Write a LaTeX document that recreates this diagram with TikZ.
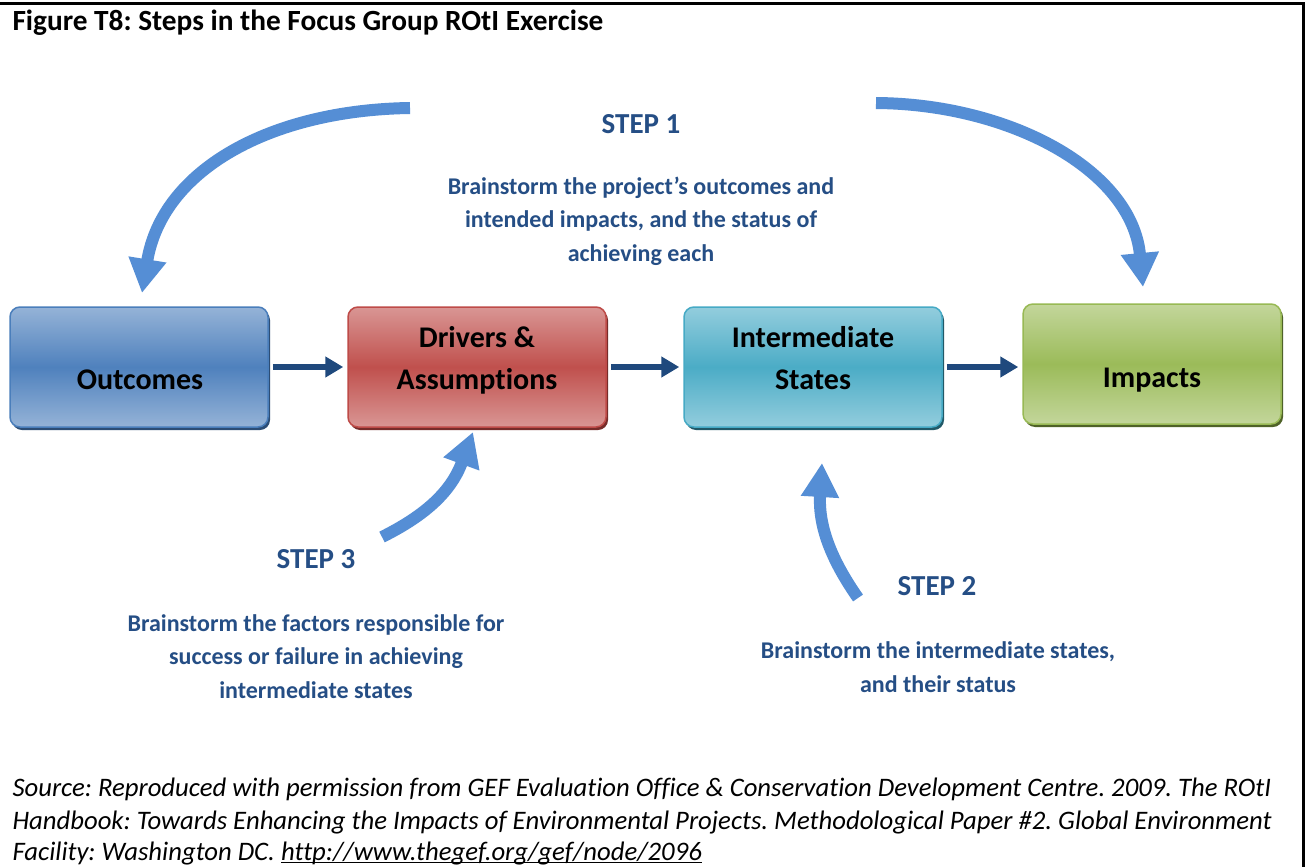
\documentclass[tikz,border=0pt]{standalone}
\usepackage{fontspec}
\setmainfont{Carlito}[Ligatures=NoCommon]
\usetikzlibrary{arrows.meta,shadows}
\frenchspacing
\definecolor{oTop}{HTML}{95B3D7}\definecolor{oMid}{HTML}{4F81BD}\definecolor{oLine}{HTML}{4A7EBB}\definecolor{oSh}{HTML}{2C4D75}
\definecolor{dTop}{HTML}{D99694}\definecolor{dMid}{HTML}{C0504D}\definecolor{dLine}{HTML}{BE4B48}\definecolor{dSh}{HTML}{772C2A}
\definecolor{iTop}{HTML}{93CDDD}\definecolor{iMid}{HTML}{4BACC6}\definecolor{iLine}{HTML}{46AAC5}\definecolor{iSh}{HTML}{215968}
\definecolor{mTop}{HTML}{C3D69B}\definecolor{mMid}{HTML}{9BBB59}\definecolor{mLine}{HTML}{98B954}\definecolor{mSh}{HTML}{4F6228}
\definecolor{navy}{HTML}{1F497D}
\definecolor{curveblue}{HTML}{558ED5}
\definecolor{steptext}{HTML}{254E85}
\newcommand\myul[1]{\setbox0\hbox{#1}\rlap{\rule[-3pt]{\wd0}{1.3pt}}\box0}
\begin{document}
\begin{tikzpicture}[x=1pt,y=-1pt,
  box/.style n args={4}{rounded corners=10pt, minimum width=258pt, minimum height=120pt,
    line width=1.5pt, draw=#3, top color=#1, bottom color=#1, middle color=#2,
    drop shadow={shadow xshift=2pt,shadow yshift=-3pt,fill=#4,opacity=1}},
  boxtext/.style={anchor=base, align=center, font=\bfseries\fontsize{30}{42}\selectfont, text=black},
  harrow/.style={draw=navy, line width=6pt, -{Triangle[length=18pt,width=20pt]}, shorten <=4pt, shorten >=4pt},
  carrow/.style={draw=curveblue, line width=12pt, -{Triangle[length=34pt,width=36pt]}},
  steplabel/.style={anchor=base, font=\bfseries\fontsize{29}{34}\selectfont, text=steptext},
  steptextstyle/.style={anchor=base, align=center, font=\bfseries\fontsize{24}{33.5}\selectfont, text=steptext},
  srcline/.style={anchor=base west, font=\itshape\fontsize{26.7}{30}\selectfont, text=black}
]
\useasboundingbox (0,0) rectangle (1306,867);
\fill[white] (0,0) rectangle (1306,867);
\draw[line width=3pt] (0,4) -- (1303,4) -- (1303,867);

\node[anchor=base west, font=\bfseries\fontsize{29.3}{34}\selectfont] (title) at (9,31) {Figure T8: Steps in the Focus Group ROtI Exercise};

% boxes
\node[box={oTop}{oMid}{oLine}{oSh}] (o) at (139,367) {};
\node[box={dTop}{dMid}{dLine}{dSh}] (d) at (477,367) {};
\node[box={iTop}{iMid}{iLine}{iSh}] (s) at (813,367) {};
\node[box={mTop}{mMid}{mLine}{mSh}] (m) at (1152,364) {};

\node[boxtext] (ot) at (140,389) {Outcomes};
\node[boxtext] (dt) at (477,389) {Drivers \&\\Assumptions};
\node[boxtext] (st) at (813,389) {Intermediate\\States};
\node[boxtext] (mt) at (1152,387) {Impacts};

% horizontal connectors
\draw[harrow] (o.east) -- (d.west);
\draw[harrow] (d.east) -- (s.west);
\draw[harrow] (s.east) -- (s.east -| m.west);

% curved arrows
\coordinate (a1s) at (410,108);
\coordinate (a1e) at (142,293);
\coordinate (a2s) at (876,103);
\coordinate (a2e) at (1143,287);
\coordinate (a3s) at (382,537);
\coordinate (a3e) at (473,432);
\coordinate (a4s) at (858,598);
\coordinate (a4e) at (822,463);
\draw[carrow] (a1s) .. controls (270,110) and (162,170) .. (a1e);
\draw[carrow] (a2s) .. controls (1010,104) and (1132,170) .. (a2e);
\draw[carrow] (a3s) .. controls (420,518) and (450,495) .. (a3e);
\draw[carrow] (a4s) .. controls (835,565) and (818,530) .. (a4e);

% step texts
\node[steplabel] (s1) at (641,133) {STEP 1};
\node[steptextstyle] (s1t) at (641,261) {Brainstorm the project’s outcomes and\\intended impacts, and the status of\\achieving each};
\node[steplabel] (s3) at (316,568) {STEP 3};
\node[steptextstyle] (s3t) at (316,698) {Brainstorm the factors responsible for\\success or failure in achieving\\intermediate states};
\node[steplabel] (s2) at (937,595) {STEP 2};
\node[steptextstyle] (s2t) at (938,692) {Brainstorm the intermediate states,\\and their status};

% source
\node[srcline] (src1) at (9,796) {Source: Reproduced with permission from GEF Evaluation Office \& Conservation Development Centre. 2009. The ROtI};
\node[srcline] (src2) at (9,829) {Handbook: Towards Enhancing the Impacts of Environmental Projects. Methodological Paper \#2. Global Environment};
\node[srcline] (src3) at (9,860) {Facility: Washington DC. \myul{http://www.thegef.org/gef/node/2096}};
\end{tikzpicture}
\end{document}
